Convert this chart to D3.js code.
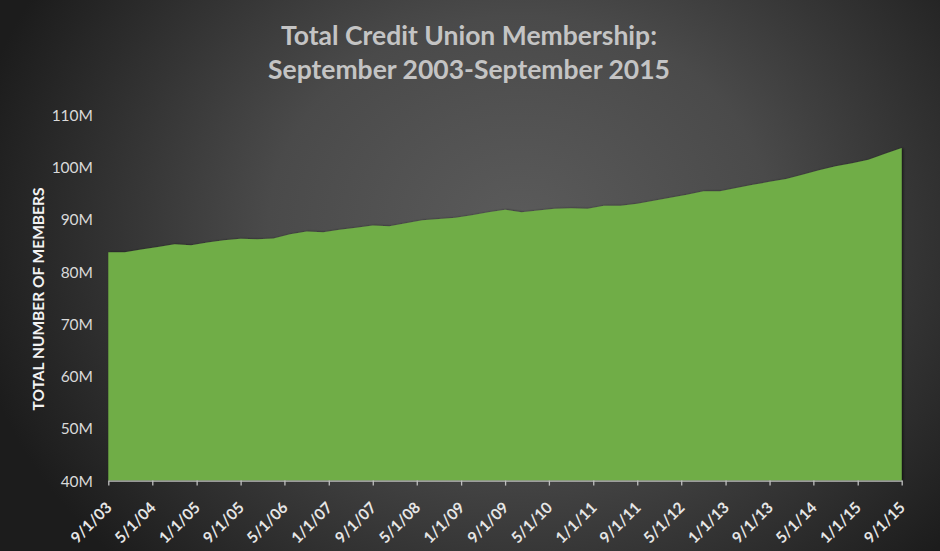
<!DOCTYPE html>
<html><head><meta charset="utf-8">
<script src="https://cdn.jsdelivr.net/npm/d3@7"></script>
<style>html,body{margin:0;padding:0;background:#2a2a2a;}svg{display:block;}</style>
</head><body>
<svg id="chart" width="940" height="551"></svg>
<script>
// ---- data ----
const quarters = [
 "9/1/03","12/1/03","3/1/04","6/1/04","9/1/04","12/1/04","3/1/05","6/1/05","9/1/05","12/1/05",
 "3/1/06","6/1/06","9/1/06","12/1/06","3/1/07","6/1/07","9/1/07","12/1/07","3/1/08","6/1/08",
 "9/1/08","12/1/08","3/1/09","6/1/09","9/1/09","12/1/09","3/1/10","6/1/10","9/1/10","12/1/10",
 "3/1/11","6/1/11","9/1/11","12/1/11","3/1/12","6/1/12","9/1/12","12/1/12","3/1/13","6/1/13",
 "9/1/13","12/1/13","3/1/14","6/1/14","9/1/14","12/1/14","3/1/15","6/1/15","9/1/15"];
const members = [ // millions
 83.74,83.74,84.27,84.75,85.27,85.04,85.61,86.03,86.32,86.23,
 86.34,87.15,87.68,87.53,88.01,88.39,88.83,88.68,89.25,89.83,
 90.11,90.34,90.82,91.36,91.84,91.40,91.70,92.03,92.16,92.03,
 92.64,92.64,92.99,93.56,94.14,94.71,95.38,95.38,96.00,96.63,
 97.20,97.74,98.54,99.41,100.17,100.75,101.42,102.57,103.66];
const xTickLabels = ["9/1/03","5/1/04","1/1/05","9/1/05","5/1/06","1/1/07","9/1/07","5/1/08","1/1/09",
 "9/1/09","5/1/10","1/1/11","9/1/11","5/1/12","1/1/13","9/1/13","5/1/14","1/1/15","9/1/15"];
const yTicks = [40,50,60,70,80,90,100,110];
const titleLines = ["Total Credit Union Membership:","September 2003-September 2015"];
const yTitle = "TOTAL NUMBER OF MEMBERS";

// ---- chart ----
const W = 940, H = 551;
const parse = d3.timeParse("%-m/%-d/%y");
const data = quarters.map((q,i)=>({date: parse(q), v: members[i]}));
const svg = d3.select("#chart");
const defs = svg.append("defs");
const rg = defs.append("radialGradient").attr("id","bg")
  .attr("gradientUnits","userSpaceOnUse").attr("cx",520).attr("cy",230).attr("r",560)
  .attr("gradientTransform","translate(520,230) scale(1,0.85) translate(-520,-230)");
rg.append("stop").attr("offset","0%").attr("stop-color","#5b5b5b");
rg.append("stop").attr("offset","45%").attr("stop-color","#4a4a4a");
rg.append("stop").attr("offset","100%").attr("stop-color","#1c1c1c");
const f = defs.append("filter").attr("id","sh").attr("x","-5%").attr("y","-5%").attr("width","110%").attr("height","110%");
f.append("feDropShadow").attr("dx",1.5).attr("dy",0).attr("stdDeviation",1.2)
  .attr("flood-color","#000").attr("flood-opacity",0.55);

svg.append("rect").attr("width",W).attr("height",H).attr("fill","url(#bg)");

const x = d3.scaleTime().domain([parse("9/1/03"), parse("9/1/15")]).range([108.3, 901.7]);
const y = d3.scaleLinear().domain([40,110]).range([480.6,115]);

// area
const area = d3.area().x(d=>x(d.date)).y0(y(40)).y1(d=>y(d.v)).curve(d3.curveLinear);
svg.append("path").datum(data).attr("d",area).attr("fill","#70ad47").attr("filter","url(#sh)");

// y axis labels
const yAxis = d3.axisLeft(y).tickValues(yTicks).tickFormat(d=>d+"M").tickSize(0).tickPadding(0);
const gy = svg.append("g").attr("transform","translate(93,0)").call(yAxis);
gy.select(".domain").remove();
gy.selectAll("text").attr("fill","#d9d9d9").attr("font-family","Lato, 'Open Sans', sans-serif")
  .attr("font-size",15.5).attr("dy","0.35em");

// x axis
const xAxis = d3.axisBottom(x).tickValues(xTickLabels.map(parse)).tickFormat(d3.timeFormat("%-m/%-d/%y"))
  .tickSize(5).tickSizeOuter(0);
const gx = svg.append("g").attr("transform",`translate(0,${y(40)})`).call(xAxis);
gx.select(".domain").attr("stroke","#bfbfbf").attr("stroke-width",1.3);
gx.selectAll(".tick line").attr("stroke","#bfbfbf").attr("stroke-width",1.3);
gx.selectAll(".tick text").attr("fill","#e6e6e6").attr("font-family","Lato, 'Open Sans', sans-serif")
  .attr("font-weight","bold").attr("font-size",15.5)
  .attr("text-anchor","end").attr("y",0).attr("dy",0)
  .attr("transform","translate(4,28) rotate(-45)");

// y title
svg.append("text").attr("transform","translate(44,299) rotate(-90)")
  .attr("text-anchor","middle").attr("fill","#f2f2f2")
  .attr("font-family","Lato, 'Open Sans', sans-serif").attr("font-weight","bold").attr("font-size",15.5)
  .text(yTitle);

// title
svg.append("g").selectAll("text").data(titleLines).join("text")
  .attr("x",469).attr("y",(d,i)=>45+i*33.5).attr("text-anchor","middle")
  .attr("fill","#c4c4c4").attr("font-family","Lato, 'Open Sans', sans-serif")
  .attr("font-weight","bold").attr("font-size",26.5).text(d=>d);
</script>
</body></html>
